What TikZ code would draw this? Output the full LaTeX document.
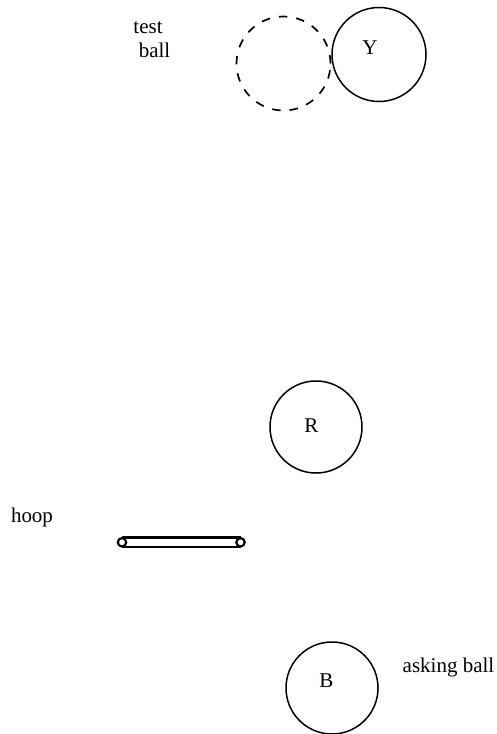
\documentclass[tikz,border=0pt]{standalone}
\usepackage{fontspec}
\setmainfont{Liberation Serif}
\begin{document}
\begin{tikzpicture}[x=1pt,y=-1pt,
  ball/.style={circle,draw,line width=1.5pt,minimum size=94pt,inner sep=0pt},
  lbl/.style={font=\fontsize{21}{24}\selectfont,inner sep=0pt,anchor=base}]
\useasboundingbox (0,0) rectangle (497,734);
\node[ball,dash pattern=on 8.5pt off 9pt,line width=1.7pt] (test) at (283.5,63.5) {};
\node[ball] (Y) at (379,54.5) {};
\node[ball,minimum size=92pt] (R) at (316,427) {};
\node[ball,minimum size=92pt] (B) at (332,688) {};
\node[lbl] (Yl) at (370,54) {Y};
\node[lbl] (Rl) at (311.5,432) {R};
\node[lbl] (Bl) at (326.5,687) {B};
\node[lbl] (tl1) at (148,33) {test};
\node[lbl] (tl2) at (154.5,57) {ball};
\node[lbl] (hooplbl) at (32,522) {hoop};
\node[lbl] (asklbl) at (448.5,672) {asking ball};
\coordinate (hl) at (122,542.3);
\coordinate (hr) at (240.5,542.3);
\draw[line width=2.8pt] ([yshift=-4.6pt]hl) -- ([yshift=-4.6pt]hr);
\draw[line width=2.8pt] ([yshift=4.6pt]hl) -- ([yshift=4.6pt]hr);
\draw[line width=2.2pt,fill=white] (hl) circle (4.2pt);
\draw[line width=2.2pt,fill=white] (hr) circle (4.2pt);
\end{tikzpicture}
\end{document}
